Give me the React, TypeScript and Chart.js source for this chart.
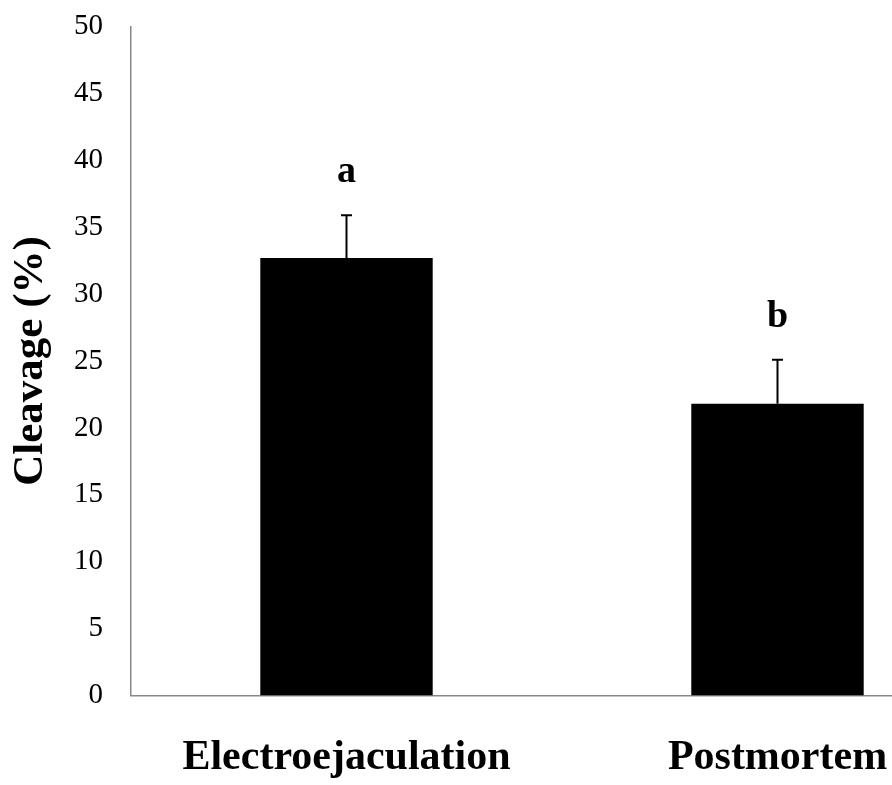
import React, { useEffect, useRef } from "react";
import { Chart, registerables } from "chart.js";

Chart.register(...registerables);

const categories = ["Electroejaculation", "Postmortem"];
const cleavage = [32.7, 21.8];
const errorUp = [3.2, 3.3];
const sigLetters = ["a", "b"];
const yMin = 0;
const yMax = 50;
const yStep = 5;

const FONT = "'Liberation Serif', 'Times New Roman', serif";

const errorBarPlugin = {
  id: "errorBarsLetters",
  afterDatasetsDraw(chart: any) {
    const ctx = chart.ctx;
    const meta = chart.getDatasetMeta(0);
    const ys = chart.scales.y;
    ctx.save();
    meta.data.forEach((bar: any, i: number) => {
      const x = bar.x;
      const base = ys.getPixelForValue(cleavage[i]);
      const top = ys.getPixelForValue(cleavage[i] + errorUp[i]);
      ctx.strokeStyle = "#000";
      ctx.lineWidth = 2;
      ctx.beginPath();
      ctx.moveTo(x, base);
      ctx.lineTo(x, top);
      ctx.moveTo(x - 5.5, top);
      ctx.lineTo(x + 5.5, top);
      ctx.stroke();
      ctx.fillStyle = "#000";
      ctx.font = `bold 38px ${FONT}`;
      ctx.textAlign = "center";
      ctx.textBaseline = "alphabetic";
      ctx.fillText(sigLetters[i], x, top - 33);
    });
    ctx.restore();
  },
};

export default function App() {
  const ref = useRef<HTMLCanvasElement>(null);
  useEffect(() => {
    if (!ref.current) return;
    const chart = new Chart(ref.current, {
      type: "bar",
      data: {
        labels: categories,
        datasets: [
          {
            data: cleavage,
            backgroundColor: "#000",
            borderWidth: 0,
            categoryPercentage: 1,
            barPercentage: 0.4,
          },
        ],
      },
      options: {
        responsive: false,
        animation: false,
        devicePixelRatio: 1,
        layout: { padding: { left: 0, top: 26.5, right: 7, bottom: 0 } },
        plugins: { legend: { display: false }, tooltip: { enabled: false } },
        scales: {
          x: {
            grid: { display: false, drawTicks: false },
            border: { display: true, color: "#888", width: 1.5 },
            ticks: {
              color: "#000",
              padding: 37,
              font: { family: FONT, size: 42, weight: "bold" },
              maxRotation: 0,
              autoSkip: false,
            },
            afterFit(scale: any) {
              scale.height = 89.5;
              scale.paddingLeft = 0;
              scale.paddingRight = 0;
              scale.paddingTop = 0;
              scale.paddingBottom = 0;
            },
          },
          y: {
            min: yMin,
            max: yMax,
            grid: { display: false, drawTicks: false },
            border: { display: true, color: "#888", width: 1.5 },
            ticks: {
              stepSize: yStep,
              color: "#000",
              padding: 28,
              font: { family: FONT, size: 29 },
            },
            title: {
              display: true,
              text: "Cleavage (%)",
              color: "#000",
              font: { family: FONT, size: 43, weight: "bold" },
              padding: { top: 5, bottom: 0 },
            },
            afterFit(scale: any) {
              scale.width = 131;
              scale.paddingTop = 0;
              scale.paddingBottom = 0;
              scale.paddingLeft = 0;
              scale.paddingRight = 0;
            },
          },
        },
      },
      plugins: [errorBarPlugin],
    } as any);
    return () => chart.destroy();
  }, []);
  return (
    <div
      style={{
        position: "fixed",
        left: 0,
        top: 0,
        width: 892,
        height: 785,
        overflow: "hidden",
        background: "#fff",
      }}
    >
      <canvas ref={ref} width={1000} height={785} style={{ width: 1000, height: 785, display: "block" }} />
    </div>
  );
}
